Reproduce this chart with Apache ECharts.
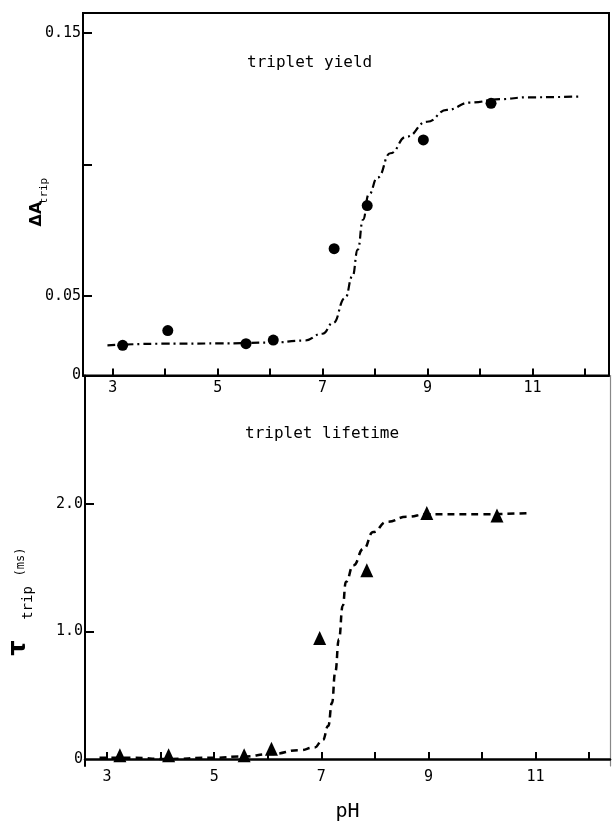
<!DOCTYPE html>
<html><head><meta charset="utf-8">
<script src="https://cdn.jsdelivr.net/npm/echarts@6/dist/echarts.min.js"></script>
<style>html,body{margin:0;padding:0;background:#fff}#c{width:614px;height:823px}</style>
</head><body><div id="c"></div>
<script>
// ---- data ----
const phYieldPts = [3.19, 4.05, 5.54, 6.06, 7.22, 7.85, 8.92, 10.21];
const yieldPts   = [0.0311, 0.0367, 0.0317, 0.0331, 0.0679, 0.0843, 0.1093, 0.1232];

const phYieldCurve = [2.9, 4.0, 5.0, 6.0, 6.65, 7.0, 7.2, 7.43, 7.57, 7.67, 7.77, 7.88, 8.05, 8.29, 8.6, 8.99, 9.37, 9.81, 10.39, 10.9, 11.88];
const yieldCurve   = [0.0311, 0.0317, 0.0318, 0.0321, 0.0329, 0.0355, 0.0396, 0.0491, 0.0574, 0.0675, 0.0789, 0.0885, 0.0950, 0.1042, 0.1105, 0.1162, 0.1207, 0.1235, 0.1248, 0.1255, 0.1258];

const phLifePts = [3.24, 4.15, 5.56, 6.07, 6.97, 7.85, 8.97, 10.28];
const lifePts   = [0.03, 0.03, 0.03, 0.08, 0.95, 1.48, 1.93, 1.91];

const phLifeCurve = [2.86, 3.5, 4.09, 4.95, 5.54, 6.07, 6.6, 6.87, 7.03, 7.13, 7.2, 7.26, 7.33, 7.4, 7.46, 7.6, 7.79, 7.97, 8.22, 8.6, 8.97, 10.0, 10.9];
const lifeCurve   = [0.01, 0.01, 0.0, 0.01, 0.02, 0.04, 0.07, 0.09, 0.15, 0.26, 0.44, 0.68, 0.94, 1.2, 1.39, 1.52, 1.65, 1.78, 1.86, 1.90, 1.92, 1.92, 1.93];

// ---- axis ticks / labels ----
const xTickValues  = [3, 4, 5, 6, 7, 8, 9, 10, 11, 12];
const xLabelValues = [3, 5, 7, 9, 11];
const yieldTickValues  = [0.05, 0.10, 0.15];
const yieldLabelValues = [0.0196, 0.05, 0.15];
const yieldLabelText   = ['0', '0.05', '0.15'];
const lifeTickValues  = [1, 2];
const lifeLabelValues = [0, 1, 2];
const lifeLabelText   = ['0', '1.0', '2.0'];

const zip = (a, b) => a.map((v, i) => [v, b[i]]);
const pick = (vals, texts) => v => {
  let best = 0;
  vals.forEach((c, i) => { if (Math.abs(c - v) < Math.abs(vals[best] - v)) best = i; });
  return texts[best];
};
const FONT = 'DejaVu Sans Mono';
const black = '#000';
const labelStyle = {fontFamily: FONT, fontSize: 15, color: black};

const chart = echarts.init(document.getElementById('c'), null, {renderer: 'canvas'});
chart.setOption({
  animation: false,
  backgroundColor: '#fff',
  title: [
    {text: 'triplet yield', left: 247, top: 55, padding: 0,
     textStyle: {fontFamily: FONT, fontSize: 16, fontWeight: 'normal', color: black}},
    {text: 'triplet lifetime', left: 245, top: 426, padding: 0,
     textStyle: {fontFamily: FONT, fontSize: 16, fontWeight: 'normal', color: black}}
  ],
  grid: [
    {left: 83, top: 13, width: 526, height: 362.5, show: true, borderColor: black, borderWidth: 2},
    {left: 85, top: 375.5, width: 525, height: 393.5, show: false}
  ],
  xAxis: [
    {gridIndex: 0, type: 'value', min: 2.434, max: 12.458,
     axisLine: {show: true, lineStyle: {color: black, width: 2}},
     axisTick: {show: true, inside: true, length: 7, customValues: xTickValues, lineStyle: {color: black, width: 2}},
     axisLabel: {customValues: xLabelValues, margin: 5, ...labelStyle},
     splitLine: {show: false}},
    {gridIndex: 1, type: 'value', min: 2.589, max: 12.39,
     name: 'pH', nameLocation: 'middle', nameGap: 36,
     nameTextStyle: {fontFamily: FONT, fontSize: 20, color: black},
     axisLine: {show: true, lineStyle: {color: black, width: 2.5}},
     axisTick: {show: true, inside: true, length: 7, customValues: xTickValues, lineStyle: {color: black, width: 2}},
     axisLabel: {customValues: xLabelValues, margin: 4, ...labelStyle},
     splitLine: {show: false}}
  ],
  yAxis: [
    {gridIndex: 0, type: 'value', min: 0.0196, max: 0.1576,
     axisLine: {show: true, lineStyle: {color: black, width: 2}},
     axisTick: {show: true, inside: true, length: 9, customValues: yieldTickValues, lineStyle: {color: black, width: 2}},
     axisLabel: {customValues: yieldLabelValues, formatter: pick(yieldLabelValues, yieldLabelText), margin: 2, ...labelStyle},
     splitLine: {show: false}},
    {gridIndex: 1, type: 'value', min: -0.0545, max: 3.008,
     axisLine: {show: true, lineStyle: {color: black, width: 2}},
     axisTick: {show: true, inside: true, length: 9, customValues: lifeTickValues, lineStyle: {color: black, width: 2}},
     axisLabel: {customValues: lifeLabelValues, formatter: pick(lifeLabelValues, lifeLabelText), margin: 2, ...labelStyle},
     splitLine: {show: false}},
    {gridIndex: 1, type: 'value', position: 'right', min: -0.0545, max: 3.008,
     axisLine: {show: true, lineStyle: {color: '#888', width: 1.2}},
     axisTick: {show: false}, axisLabel: {show: false}, splitLine: {show: false}}
  ],
  series: [
    {type: 'line', xAxisIndex: 0, yAxisIndex: 0, data: zip(phYieldCurve, yieldCurve),
     showSymbol: false, smooth: 0.5, smoothMonotone: 'x',
     lineStyle: {color: black, width: 2.2, type: [8, 4, 2, 4]}},
    {type: 'scatter', xAxisIndex: 0, yAxisIndex: 0, data: zip(phYieldPts, yieldPts),
     symbol: 'circle', symbolSize: 11, itemStyle: {color: black, opacity: 1}},
    {type: 'line', xAxisIndex: 1, yAxisIndex: 1, data: zip(phLifeCurve, lifeCurve),
     showSymbol: false, smooth: 0.5, smoothMonotone: 'x',
     lineStyle: {color: black, width: 2.5, type: [7, 5]}},
    {type: 'scatter', xAxisIndex: 1, yAxisIndex: 1, data: zip(phLifePts, lifePts),
     symbol: 'triangle', symbolSize: [13, 14], itemStyle: {color: black, opacity: 1}}
  ],
  graphic: [
    {type: 'text', x: 37, y: 214, rotation: Math.PI / 2,
     style: {text: 'ΔA', font: 'bold 16px DejaVu Sans', fill: black, align: 'center', verticalAlign: 'middle'}},
    {type: 'text', x: 44, y: 191, rotation: Math.PI / 2,
     style: {text: 'trip', font: '11px DejaVu Sans Mono', fill: black, align: 'center', verticalAlign: 'middle'}},
    {type: 'text', x: 19, y: 648, rotation: Math.PI / 2,
     style: {text: 'τ', font: 'bold 24px DejaVu Sans', fill: black, align: 'center', verticalAlign: 'middle'}},
    {type: 'text', x: 28, y: 603, rotation: Math.PI / 2,
     style: {text: 'trip', font: '14px DejaVu Sans Mono', fill: black, align: 'center', verticalAlign: 'middle'}},
    {type: 'text', x: 21, y: 562, rotation: Math.PI / 2,
     style: {text: '(ms)', font: '12px DejaVu Sans Mono', fill: black, align: 'center', verticalAlign: 'middle'}}
  ]
});
</script></body></html>
